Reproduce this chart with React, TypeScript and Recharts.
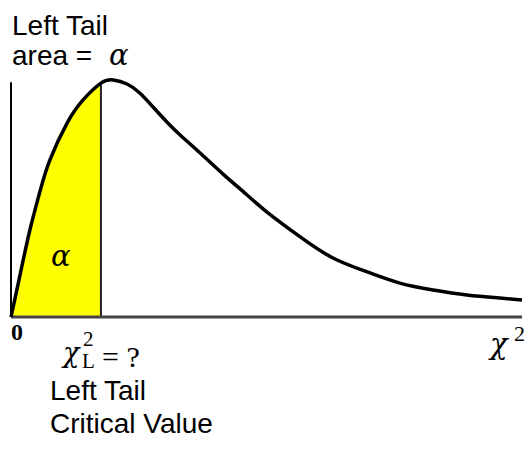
import React from "react";
import {
  ComposedChart,
  Area,
  Line,
  XAxis,
  YAxis,
  ReferenceLine,
} from "recharts";

// curve (chi-square units on x, density relative to the peak on y)
const chiX = [
  0, 0.08, 0.18, 0.37, 0.57, 0.76, 1.1, 1.41, 1.76, 2.0, 2.27, 2.52, 2.78,
  3.05, 3.31, 3.7, 4.15, 4.62, 5.01, 5.66, 6.3, 6.97, 7.61, 8.26, 8.92, 9.57,
  10,
];
const density = [
  0, 0.08, 0.181, 0.367, 0.532, 0.662, 0.819, 0.916, 0.987, 1.0, 0.983, 0.945,
  0.886, 0.823, 0.768, 0.692, 0.603, 0.515, 0.443, 0.338, 0.249, 0.19, 0.143,
  0.114, 0.093, 0.08, 0.072,
];
const critX = 1.76;
const xDomain = [0, 10];
const yDomain = [0, 1];
const axisTop = 0.99;

const rows = chiX.map((x, i) => ({
  x,
  y: density[i],
  shade: x <= critX ? density[i] : null,
}));

const SANS = "'Liberation Sans', Arial, sans-serif";
const SERIF = "'Liberation Serif', 'Times New Roman', serif";
const GREEK = "'DejaVu Serif', 'Liberation Serif', serif";

const Labels = () => (
  <svg
    width={529}
    height={452}
    style={{ position: "absolute", left: 0, top: 0, pointerEvents: "none" }}
  >
    <text x={12} y={35} fontFamily={SANS} fontSize={28} fill="#000">
      Left Tail
    </text>
    <text x={12} y={65} fontFamily={SANS} fontSize={28} fill="#000">
      area =
    </text>
    <text x={109} y={65} fontFamily={GREEK} fontStyle="italic" fontSize={29} fill="#000">
      α
    </text>
    <text x={51} y={266} fontFamily={GREEK} fontStyle="italic" fontSize={29} fill="#000">
      α
    </text>
    <text x={11} y={340} fontFamily={SERIF} fontWeight="bold" fontSize={24} fill="#000">
      0
    </text>
    <text x={63} y={362} fontFamily={GREEK} fontStyle="italic" fontSize={27} fill="#000">
      χ
    </text>
    <text x={83} y={346} fontFamily={SERIF} fontSize={21} fill="#000">
      2
    </text>
    <text x={82} y={368} fontFamily={SERIF} fontSize={21} fill="#000">
      L
    </text>
    <text x={102} y={367} fontFamily={SERIF} fontSize={30} fill="#000">
      = ?
    </text>
    <text x={490} y={354} fontFamily={GREEK} fontStyle="italic" fontSize={29} fill="#000">
      χ
    </text>
    <text x={514} y={341} fontFamily={SERIF} fontSize={22} fill="#000">
      2
    </text>
    <text x={50} y={400} fontFamily={SANS} fontSize={28} fill="#000">
      Left Tail
    </text>
    <text x={50} y={433} fontFamily={SANS} fontSize={28} fill="#000">
      Critical Value
    </text>
  </svg>
);

export default function App() {
  return (
    <div
      style={{
        position: "absolute",
        left: 0,
        top: 0,
        width: 529,
        height: 452,
        background: "#fff",
      }}
    >
      <ComposedChart
        width={529}
        height={452}
        data={rows}
        margin={{ top: 80, right: 7, bottom: 135, left: 11 }}
      >
        <XAxis dataKey="x" type="number" domain={xDomain} hide />
        <YAxis type="number" domain={yDomain} hide />
        <Area
          dataKey="shade"
          type="natural"
          fill="#ffff00"
          fillOpacity={1}
          stroke="none"
          baseValue={0}
          isAnimationActive={false}
        />
        <ReferenceLine
          segment={[
            { x: critX, y: 0 },
            { x: critX, y: density[chiX.indexOf(critX)] },
          ]}
          stroke="#222"
          strokeWidth={2}
          ifOverflow="visible"
        />
        <ReferenceLine
          segment={[
            { x: 0, y: 0 },
            { x: 0, y: axisTop },
          ]}
          stroke="#000"
          strokeWidth={2}
          ifOverflow="visible"
        />
        <ReferenceLine
          segment={[
            { x: 0, y: 0 },
            { x: 10, y: 0 },
          ]}
          stroke="#444"
          strokeWidth={3}
          ifOverflow="visible"
        />
        <Line
          dataKey="y"
          type="natural"
          stroke="#000"
          strokeWidth={3.5}
          dot={false}
          isAnimationActive={false}
        />
      </ComposedChart>
      <Labels />
    </div>
  );
}
